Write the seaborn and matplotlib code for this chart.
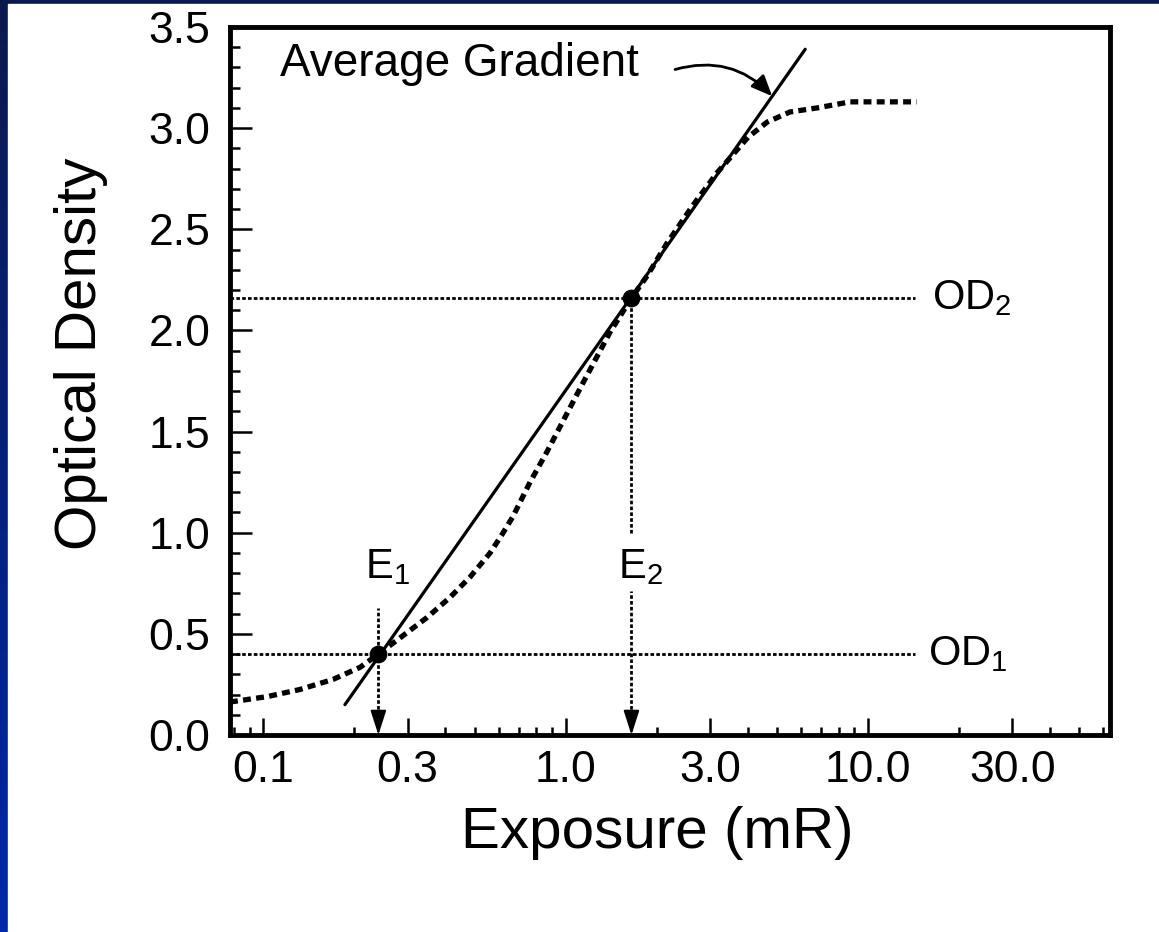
import numpy as np
import matplotlib
matplotlib.use("Agg")
import matplotlib.pyplot as plt
from matplotlib.colors import LinearSegmentedColormap
from matplotlib.patches import Rectangle
from matplotlib.ticker import (FixedLocator, FixedFormatter, LogLocator,
                               MultipleLocator, NullFormatter, FormatStrFormatter)
import seaborn as sns

# Characteristic (H&D) curve
exposure = [0.0775, 0.103, 0.132, 0.170, 0.209, 0.24, 0.283, 0.347, 0.414, 0.482,
            0.562, 0.615, 0.669, 0.762, 0.867, 1.01, 1.14, 1.40, 1.65, 1.86,
            2.16, 2.64, 3.17, 4.01, 4.64, 5.52, 6.79, 8.73, 14.5]
density = [0.163, 0.19, 0.225, 0.275, 0.335, 0.40, 0.48, 0.58, 0.68, 0.78,
           0.90, 0.99, 1.08, 1.25, 1.40, 1.59, 1.74, 1.99, 2.16, 2.27,
           2.43, 2.62, 2.78, 2.955, 3.03, 3.08, 3.10, 3.13, 3.13]

# Average gradient line (its two ends)
grad_exposure = [0.186, 6.2]
grad_density = [0.15, 3.39]

# Reference points
E1, E2 = 0.24, 1.65
OD1, OD2 = 0.40, 2.16

x_ticks = [0.1, 0.3, 1.0, 3.0, 10.0, 30.0]
x_labels = ["0.1", "0.3", "1.0", "3.0", "10.0", "30.0"]

sns.set_theme(style="ticks")
plt.rcParams["font.family"] = ["Liberation Sans", "DejaVu Sans"]
plt.rcParams["mathtext.default"] = "regular"
plt.rcParams["text.color"] = "black"

W, H = 1159, 932
fig = plt.figure(figsize=(W / 100, H / 100), dpi=100)

# blue slide background with white panel
bg = fig.add_axes([0, 0, 1, 1], zorder=-10)
cmap = LinearSegmentedColormap.from_list("bg", ["#0b1a4e", "#0028a8"])
bg.imshow(np.linspace(0, 1, 256).reshape(-1, 1), aspect="auto", cmap=cmap,
          extent=[0, 1, 0, 1])
bg.add_patch(Rectangle((8 / W, 0), 1, 1 - 4 / H, color="white"))
bg.set_xlim(0, 1)
bg.set_ylim(0, 1)
bg.axis("off")

ax = fig.add_axes([230 / W, 1 - 735 / H, 880 / W, 708 / H])
ax.set_facecolor("white")
ax.set_xscale("log")
x_min, x_max = 0.0775, 63.2
ax.set_xlim(x_min, x_max)
ax.set_ylim(0, 3.5)

# curve and gradient line
sns.lineplot(x=exposure, y=density, ax=ax, color="black", lw=3.8,
             linestyle=(0, (1.5, 1.0)), dash_capstyle="butt", sort=False,
             errorbar=None)
sns.lineplot(x=grad_exposure, y=grad_density, ax=ax, color="black", lw=2.3,
             errorbar=None)

# OD reference lines
od_end = 14.3
dot = (0, (1.3, 0.8))
ax.plot([x_min, od_end], [OD1, OD1], color="black", lw=2.0, linestyle=dot)
ax.plot([x_min, od_end], [OD2, OD2], color="black", lw=2.0, linestyle=dot)

# E drop lines with arrows
ax.plot([E1, E1], [0.1, 0.63], color="black", lw=2.0, linestyle=dot)
ax.plot([E2, E2], [1.0, OD2], color="black", lw=2.0, linestyle=dot)
ax.plot([E2, E2], [0.1, 0.71], color="black", lw=2.0, linestyle=dot)
for e in (E1, E2):
    ax.annotate("", xy=(e, 0.0), xytext=(e, 0.11),
                arrowprops=dict(arrowstyle="-|>,head_length=0.75,head_width=0.24",
                                mutation_scale=20, color="black", lw=1.5,
                                shrinkA=0, shrinkB=0))

sns.scatterplot(x=[E1, E2], y=[OD1, OD2], ax=ax, s=140, color="black",
                edgecolor="black", zorder=5)

# labels on the plot
ax.text(16.3, OD2, "OD$_2$", fontsize=30, va="center", ha="left")
ax.text(15.8, OD1, "OD$_1$", fontsize=30, va="center", ha="left")
ax.text(0.217, 0.777, "E$_1$", fontsize=30, va="baseline", ha="left")
ax.text(1.49, 0.777, "E$_2$", fontsize=30, va="baseline", ha="left")
ax.text(0.1135, 3.257, "Average Gradient", fontsize=33, va="baseline", ha="left")
ax.annotate("", xy=(4.82, 3.158), xytext=(2.3, 3.29),
            arrowprops=dict(arrowstyle="-|>,head_length=0.7,head_width=0.3",
                            mutation_scale=18, color="black", lw=2.0,
                            shrinkA=0, shrinkB=0,
                            connectionstyle="arc3,rad=-0.3"))

# axes and ticks
ax.xaxis.set_major_locator(FixedLocator(x_ticks))
ax.xaxis.set_major_formatter(FixedFormatter(x_labels))
ax.xaxis.set_minor_locator(LogLocator(base=10, subs=[2, 4, 5, 6, 7, 8, 9]))
ax.xaxis.set_minor_formatter(NullFormatter())
ax.yaxis.set_major_locator(MultipleLocator(0.5))
ax.yaxis.set_minor_locator(MultipleLocator(0.1))
ax.yaxis.set_major_formatter(FormatStrFormatter("%.1f"))

ax.tick_params(which="both", direction="in", width=1.8, color="black",
               top=False, right=False, labelsize=32, labelcolor="black")
ax.tick_params(axis="y", which="major", length=16, pad=14)
ax.tick_params(axis="y", which="minor", length=7)
ax.tick_params(axis="x", which="major", length=12, pad=11)
ax.tick_params(axis="x", which="minor", length=6)

for s in ax.spines.values():
    s.set_linewidth(3.5)
    s.set_color("black")

ax.set_xlabel("Exposure (mR)", fontsize=42, color="black")
ax.set_ylabel("Optical Density", fontsize=42, color="black")
ax.xaxis.set_label_coords(0.485, -0.100)
ax.yaxis.set_label_coords(-0.139, 0.538)

fig.savefig("out.png", dpi=100)
